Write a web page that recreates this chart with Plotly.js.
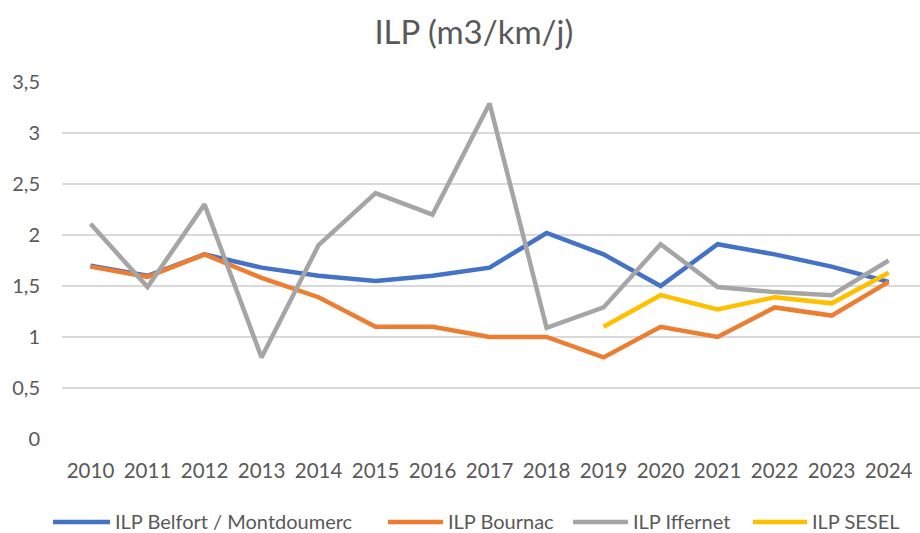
<!DOCTYPE html>
<html><head><meta charset="utf-8">
<script src="https://cdn.plot.ly/plotly-3.0.1.min.js"></script>
<style>html,body{margin:0;padding:0;background:#fff}#chart{width:920px;height:533px}</style>
</head><body><div id="chart"></div>
<script>
const years = [2010,2011,2012,2013,2014,2015,2016,2017,2018,2019,2020,2021,2022,2023,2024];
const belfort = [1.7,1.6,1.81,1.68,1.6,1.55,1.6,1.68,2.02,1.81,1.5,1.91,1.81,1.69,1.54];
const bournac = [1.69,1.59,1.81,1.58,1.39,1.1,1.1,1.0,1.0,0.8,1.1,1.0,1.29,1.21,1.54];
const iffernet = [2.11,1.49,2.3,0.8,1.9,2.41,2.2,3.29,1.09,1.29,1.91,1.49,1.44,1.41,1.75];
const seselYears = [2019,2020,2021,2022,2023,2024];
const sesel = [1.1,1.41,1.27,1.39,1.33,1.63];
const yTickVals = [0,0.5,1,1.5,2,2.5,3,3.5];
const yTickText = ["0","0,5","1","1,5","2","2,5","3","3,5"];
const names = ["ILP Belfort / Montdoumerc","ILP Bournac","ILP Iffernet","ILP SESEL"];
const colors = ["#4472C4","#ED7D31","#A5A5A5","#FFC000"];

const mk = (x,y,i)=>({x:x,y:y,name:names[i],type:"scatter",mode:"lines",showlegend:false,
  line:{color:colors[i],width:4.5,shape:"linear"}});
const data = [mk(years,belfort,0),mk(years,bournac,1),mk(years,iffernet,2),mk(seselYears,sesel,3)];

const font = "Lato, 'Noto Sans', sans-serif";
const W = 920, H = 533, ML = 62, MR = 0, MT = 82, MB = 94;
const pw = W - ML - MR, ph = H - MT - MB;
const px2x = p => (p - ML) / pw;
const py2y = p => (H - MB - p) / ph;

// custom legend (swatch start/end, text start in pixels)
const legendPos = [[53,110,113],[388,443,446],[573,628,631],[753,807,810]];
const legendY = 521;
const shapes = [], annotations = [];
legendPos.forEach((p,i)=>{
  shapes.push({type:"line",xref:"paper",yref:"paper",x0:px2x(p[0]),x1:px2x(p[1]),
    y0:py2y(legendY+1),y1:py2y(legendY+1),line:{color:colors[i],width:4.5}});
  annotations.push({xref:"paper",yref:"paper",x:px2x(p[2]),y:py2y(legendY),text:names[i],
    showarrow:false,xanchor:"left",yanchor:"middle",font:{family:font,size:20,color:"#595959"}});
});

const layout = {
  width:W,height:H,
  paper_bgcolor:"#fff",plot_bgcolor:"#fff",
  margin:{l:ML,r:MR,t:MT,b:MB,autoexpand:false},
  title:{text:"ILP (m3/km/j)",font:{family:font,size:33,color:"#595959"},x:0.515,xanchor:"center",y:0.94,yanchor:"middle"},
  font:{family:font,color:"#595959",size:20},
  showlegend:false,
  shapes:shapes, annotations:annotations,
  xaxis:{type:"linear",range:[2009.5,2024.55],tickvals:years,ticktext:years.map(String),
    showgrid:false,zeroline:false,showline:false,ticks:"",ticklabelstandoff:17,automargin:false,
    tickfont:{family:font,size:20.5,color:"#595959"}},
  yaxis:{range:[0,3.5],tickvals:yTickVals,ticktext:yTickText,showgrid:true,gridcolor:"#D9D9D9",gridwidth:1.3,
    zeroline:false,showline:false,ticks:"",ticklabelstandoff:21,automargin:false,
    tickfont:{family:font,size:20,color:"#595959"}}
};
Plotly.newPlot("chart",data,layout,{displayModeBar:false,staticPlot:true});
</script></body></html>
